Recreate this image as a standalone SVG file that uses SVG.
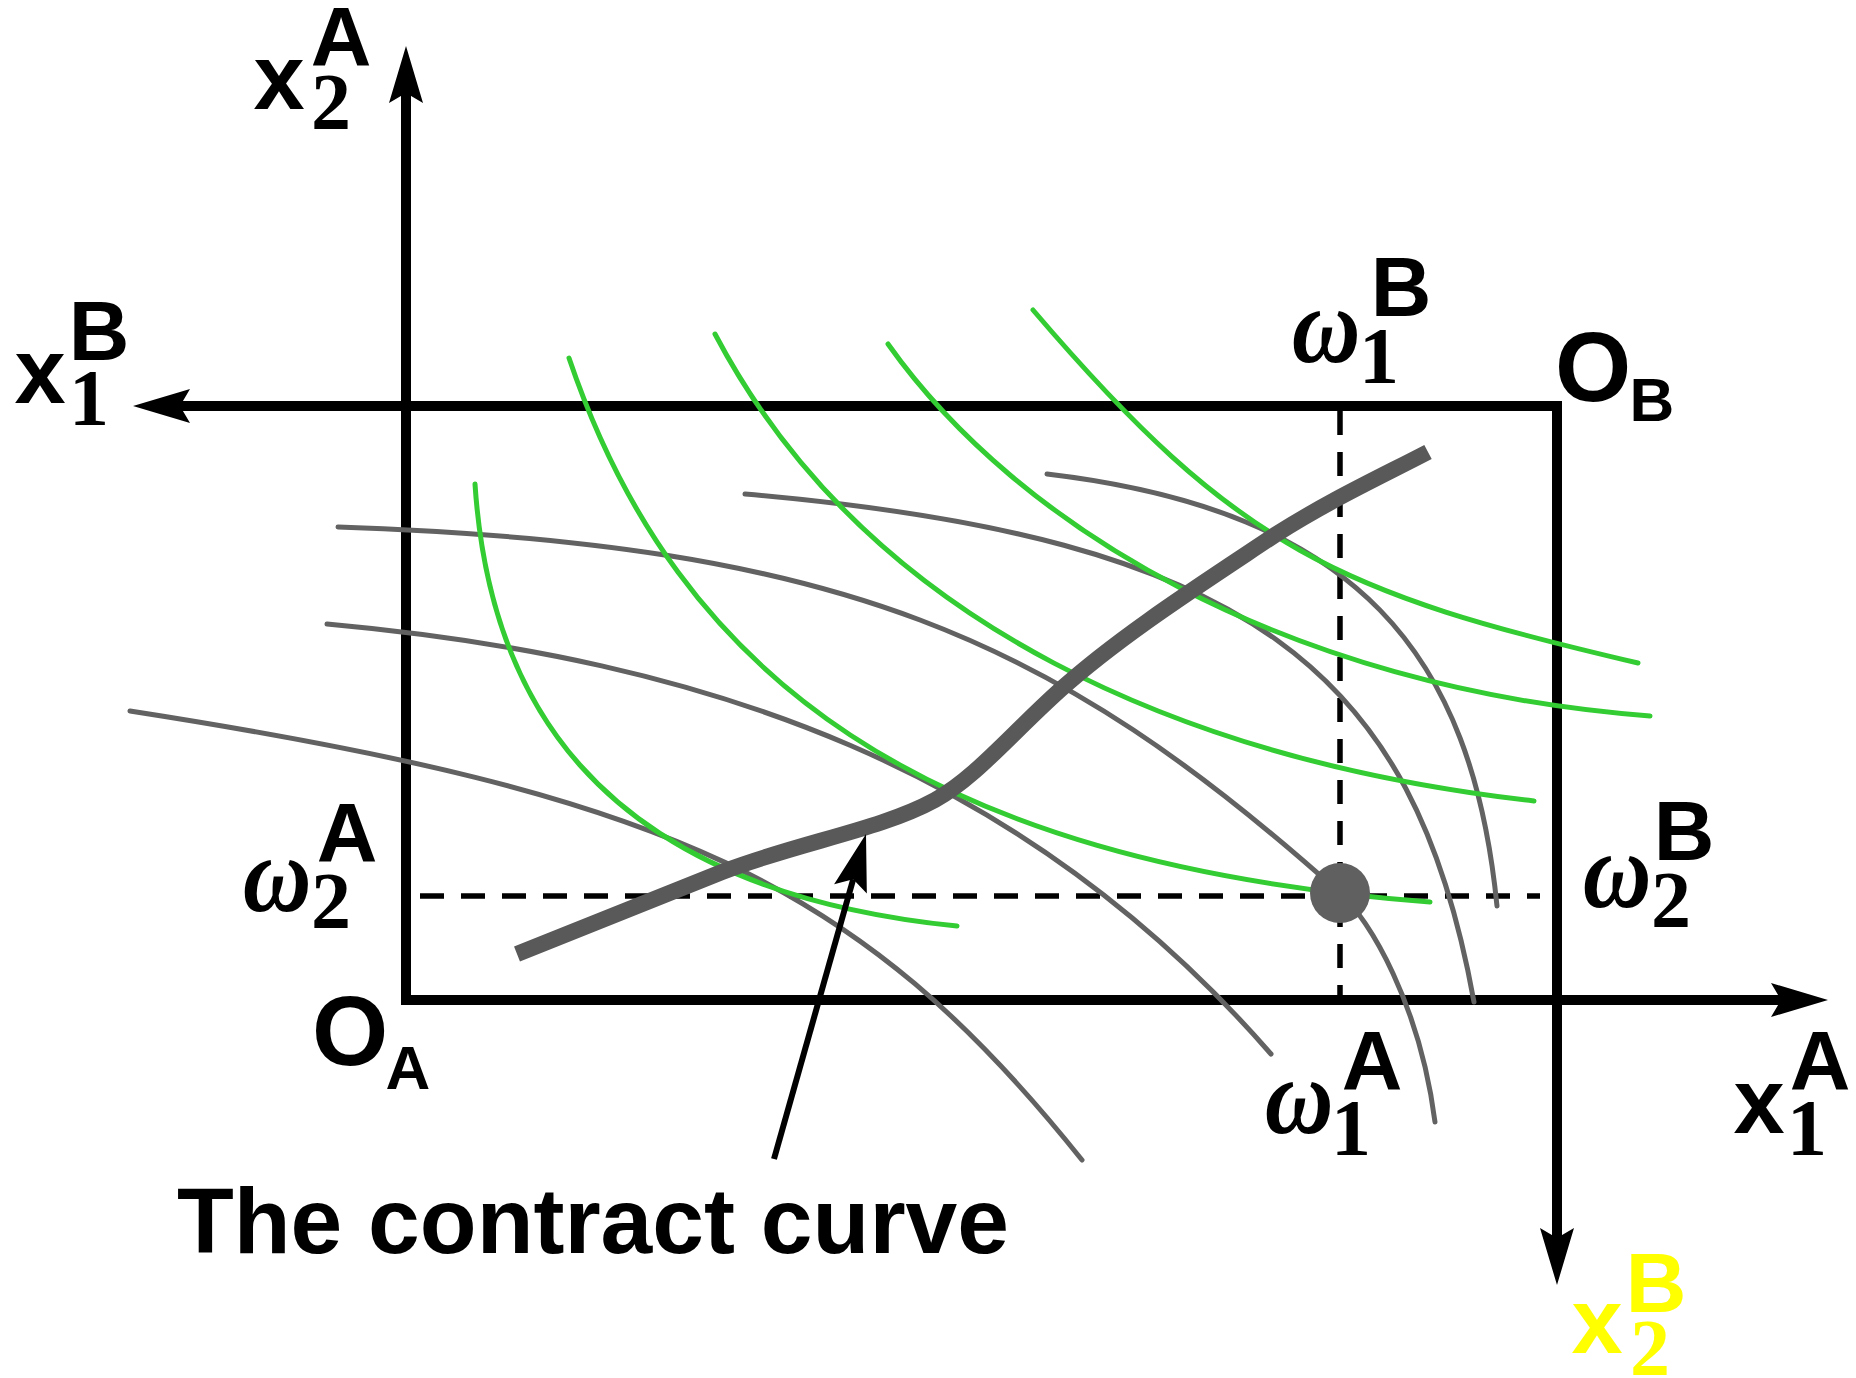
<svg xmlns="http://www.w3.org/2000/svg" width="1856" height="1378" viewBox="0 0 1856 1378">
<style>
.axis{stroke:#000;stroke-width:10;fill:none}
.dash{stroke:#000;stroke-width:5.5;fill:none;stroke-dasharray:24 17}
.gray{stroke:#626262;stroke-width:5;fill:none;stroke-linecap:round}
.green{stroke:#33cc33;stroke-width:5;fill:none;stroke-linecap:round}
.cc{stroke:#595959;stroke-width:16;fill:none;stroke-linecap:butt}
.ann{stroke:#000;stroke-width:6;fill:none}
text{text-anchor:middle}
.s{font-family:"Liberation Sans",Arial,sans-serif;font-weight:bold;font-size:84px}
.x{font-size:92px}
.n{font-family:"Liberation Serif","Times New Roman",serif;font-weight:bold;font-size:80px}
.w{font-family:"Liberation Serif","Times New Roman",serif;font-style:italic;font-weight:bold;font-size:108px}
.big{font-size:98px}
.sub{font-size:62px}
.y{fill:#ffff00}
</style>
<defs>
<marker id="arr" markerUnits="userSpaceOnUse" markerWidth="60" markerHeight="40" refX="10" refY="0" orient="auto" viewBox="0 -20 60 40" overflow="visible">
<path d="M0,-17 L57,0 L0,17 L10,0 Z" fill="#000"/>
</marker>
</defs>
<rect width="1856" height="1378" fill="#fff"/>
<g id="connectors">
<g id="axes">
<path class="axis" d="M406,1005 L406,93" marker-end="url(#arr)"/>
<path class="axis" d="M401,1000 L1781,1000" marker-end="url(#arr)"/>
<path class="axis" d="M1562,406 L180,406" marker-end="url(#arr)"/>
<path class="axis" d="M1557,401 L1557,1238" marker-end="url(#arr)"/>
</g>
<g id="endowment-lines">
<path class="dash" d="M420,896 L1540,896"/>
<path class="dash" d="M1340,411 L1340,996"/>
</g>
<g id="b-indifference">
<path class="gray" d="M130,711 C670,795 859,881 1082,1160"/>
<path class="gray" d="M327,624 C711,659 1023,769 1271,1054"/>
<path class="gray" d="M338,527 C841,544 1053,636 1340,893 C1370,920 1420,1005 1435,1122"/>
<path class="gray" d="M745,494 C1251,538 1414,670 1474,1002"/>
<path class="gray" d="M1047,474 C1360,511 1472,656 1497,906"/>
</g>
<g id="a-indifference">
<path class="green" d="M475,484 C488,682 581,888 957,926"/>
<path class="green" d="M569,358 C677,677 924,863 1430,902"/>
<path class="green" d="M715,334 C870,628 1191,762 1534,801"/>
<path class="green" d="M888,344 C1017,526 1284,688 1650,716"/>
<path class="green" d="M1033,310 C1238,550 1338,593 1638,663"/>
</g>
<g id="contract-curve">
<path class="cc" d="M517,954 L722,872 C800,842 880,830 935,800 C975,778 1010,735 1060,690 C1120,636 1200,585 1275,535 C1330,500 1380,477 1428,452"/>
</g>
<g id="annotation-arrow">
<path class="ann" d="M774,1159 L853.2,879.2" marker-end="url(#arr)"/>
</g>
</g>
<g id="endowment-point">
<circle cx="1340" cy="893" r="30" fill="#606060"/>
</g>
<g id="label-x2A">
<text class="s x" x="279" y="109">x</text>
<text class="n" x="331" y="129">2</text>
<text class="s" x="341" y="66">A</text>
</g>
<g id="label-x1B">
<text class="s x" x="40" y="403">x</text>
<text class="n" x="89" y="425">1</text>
<text class="s" x="99" y="360">B</text>
</g>
<g id="label-w1B">
<text class="w" transform="translate(1326,362) scale(0.88,1)">ω</text>
<text class="n" x="1379" y="383">1</text>
<text class="s" x="1401" y="316">B</text>
</g>
<g id="label-OB">
<text class="s big" x="1593" y="401">O</text>
<text class="s sub" x="1652" y="421">B</text>
</g>
<g id="label-w2A">
<text class="w" transform="translate(277,911) scale(0.88,1)">ω</text>
<text class="n" x="331" y="928">2</text>
<text class="s" x="347" y="862">A</text>
</g>
<g id="label-OA">
<text class="s big" x="350" y="1065">O</text>
<text class="s sub" x="408" y="1089">A</text>
</g>
<g id="label-w2B">
<text class="w" transform="translate(1617,907) scale(0.88,1)">ω</text>
<text class="n" x="1671" y="927">2</text>
<text class="s" x="1684" y="860">B</text>
</g>
<g id="label-w1A">
<text class="w" transform="translate(1299,1133) scale(0.88,1)">ω</text>
<text class="n" x="1351" y="1155">1</text>
<text class="s" x="1372" y="1090">A</text>
</g>
<g id="label-x1A">
<text class="s x" x="1759" y="1133">x</text>
<text class="n" x="1807" y="1155">1</text>
<text class="s" x="1820" y="1090">A</text>
</g>
<g id="label-x2B">
<text class="s x y" x="1597" y="1353">x</text>
<text class="n y" x="1650" y="1375">2</text>
<text class="s y" x="1656" y="1312">B</text>
</g>
<g id="label-contract">
<text class="s" x="593" y="1253" style="font-size:93px">The contract curve</text>
</g>
</svg>
